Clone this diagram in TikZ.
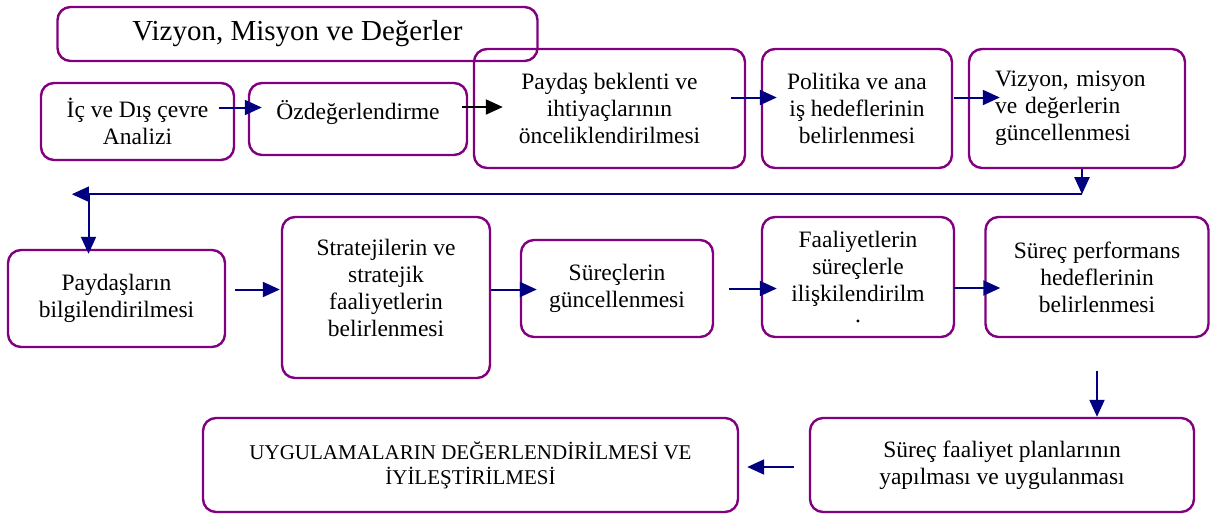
\documentclass[tikz,border=0pt]{standalone}
\usepackage{fontspec}
\setmainfont{Liberation Serif}
\usetikzlibrary{arrows.meta}
\definecolor{mor}{RGB}{128,0,128}
\definecolor{lacivert}{RGB}{0,0,128}

\tikzset{
  kutu/.style={draw=mor, line width=2.4pt, rounded corners=13pt, align=center,
    inner sep=2pt, font=\fontsize{23.5}{27}\selectfont},
  ok/.style={lacivert, line width=2pt, -{Triangle[length=17pt,width=15pt]}},
}

\begin{document}
\begin{tikzpicture}[x=1pt,y=-1pt]
  \useasboundingbox (0,0) rectangle (1212,515);
  % ust sira
  \node[kutu, minimum width=480pt, minimum height=54pt, font=\fontsize{29}{33}\selectfont] (baslik) at (297.5,34) {Vizyon, Misyon ve Değerler};
  \node[kutu, minimum width=193pt, minimum height=77pt] (analiz) at (137.5,121.5) {İç ve Dış çevre\\Analizi};
  \node[kutu, minimum width=218pt, minimum height=72pt] (ozdeg) at (358,119) {Özdeğerlendirme\\[-9pt]\mbox{}};
  \node[kutu, minimum width=271pt, minimum height=119pt] (paydas) at (609.5,108.5) {Paydaş beklenti ve\\ihtiyaçlarının\\önceliklendirilmesi};
  \node[kutu, minimum width=190pt, minimum height=119pt] (politika) at (857,108.5) {Politika ve ana\\iş hedeflerinin\\belirlenmesi};
  \node[kutu, minimum width=216pt, minimum height=119pt, align=left, text width=164pt] (vizyon) at (1077,108.5) {Vizyon, misyon\\ve değerlerin\\güncellenmesi};
  % orta sira
  \node[kutu, minimum width=217pt, minimum height=97pt] (bilgi) at (116.5,298.5) {Paydaşların\\bilgilendirilmesi};
  \node[kutu, minimum width=208pt, minimum height=161pt] (strateji) at (386,297.5) {Stratejilerin ve\\stratejik\\faaliyetlerin\\belirlenmesi\\[-7pt]\mbox{}};
  \node[kutu, minimum width=192pt, minimum height=97pt] (surec) at (617,288.5) {Süreçlerin\\güncellenmesi};
  \node[kutu, minimum width=192pt, minimum height=120pt] (iliski) at (858,277) {Faaliyetlerin\\süreçlerle\\ilişkilendirilm\\[-6pt].};
  \node[kutu, minimum width=223pt, minimum height=120pt] (hedef) at (1097,277) {Süreç performans\\hedeflerinin\\belirlenmesi};
  % alt sira
  \node[kutu, minimum width=384pt, minimum height=94pt] (plan) at (1002,465) {Süreç faaliyet planlarının\\yapılması ve uygulanması};
  \node[kutu, minimum width=535pt, minimum height=94pt, font=\fontsize{21}{25}\selectfont] (uygulama) at (470.5,465) {UYGULAMALARIN DEĞERLENDİRİLMESİ VE\\İYİLEŞTİRİLMESİ};

  % oklar
  \draw[ok] ([xshift=-16pt,yshift=14pt]analiz.east) -- ([xshift=14pt,yshift=14pt]analiz.east -| ozdeg.west);
  \draw[ok, black] ([xshift=-6pt,yshift=12pt]ozdeg.east) -- ([xshift=30pt,yshift=12pt]ozdeg.east -| paydas.west);
  \draw[ok] ([xshift=-15pt,yshift=11pt]paydas.east) -- ([xshift=16pt,yshift=11pt]paydas.east -| politika.west);
  \draw[ok] ([xshift=1pt,yshift=11pt]politika.east) -- ([xshift=32pt,yshift=11pt]politika.east -| vizyon.west);
  \coordinate (sag) at ([xshift=5pt,yshift=-25pt]vizyon.south);
  \coordinate (sol) at ([xshift=65pt]sag -| bilgi.west);
  \draw[ok] ([xshift=5pt]vizyon.south) -- (sag);
  \draw[ok] (sag) -- (sol);
  \draw[ok] ([xshift=-28pt]bilgi.north |- sag) -- ([xshift=-28pt,yshift=-5pt]bilgi.north);
  \draw[ok] ([xshift=9pt,yshift=9pt]bilgi.east) -- ([xshift=-1pt,yshift=9pt]bilgi.east -| strateji.west);
  \draw[ok] ([yshift=8pt]strateji.east) -- ([xshift=17pt,yshift=8pt]strateji.east -| surec.west);
  \draw[ok] ([xshift=15pt]surec.east) -- ([xshift=16pt]surec.east -| iliski.west);
  \draw[ok] ([xshift=-1pt,yshift=-11pt]iliski.east) -- ([xshift=16pt,yshift=-11pt]iliski.east -| hedef.west);
  \draw[ok] ([yshift=-33pt]hedef.south) -- (hedef.south |- plan.north);
  \draw[ok] ([xshift=-15pt,yshift=-2pt]plan.west) -- ([xshift=8pt,yshift=-2pt]plan.west -| uygulama.east);
\end{tikzpicture}
\end{document}
